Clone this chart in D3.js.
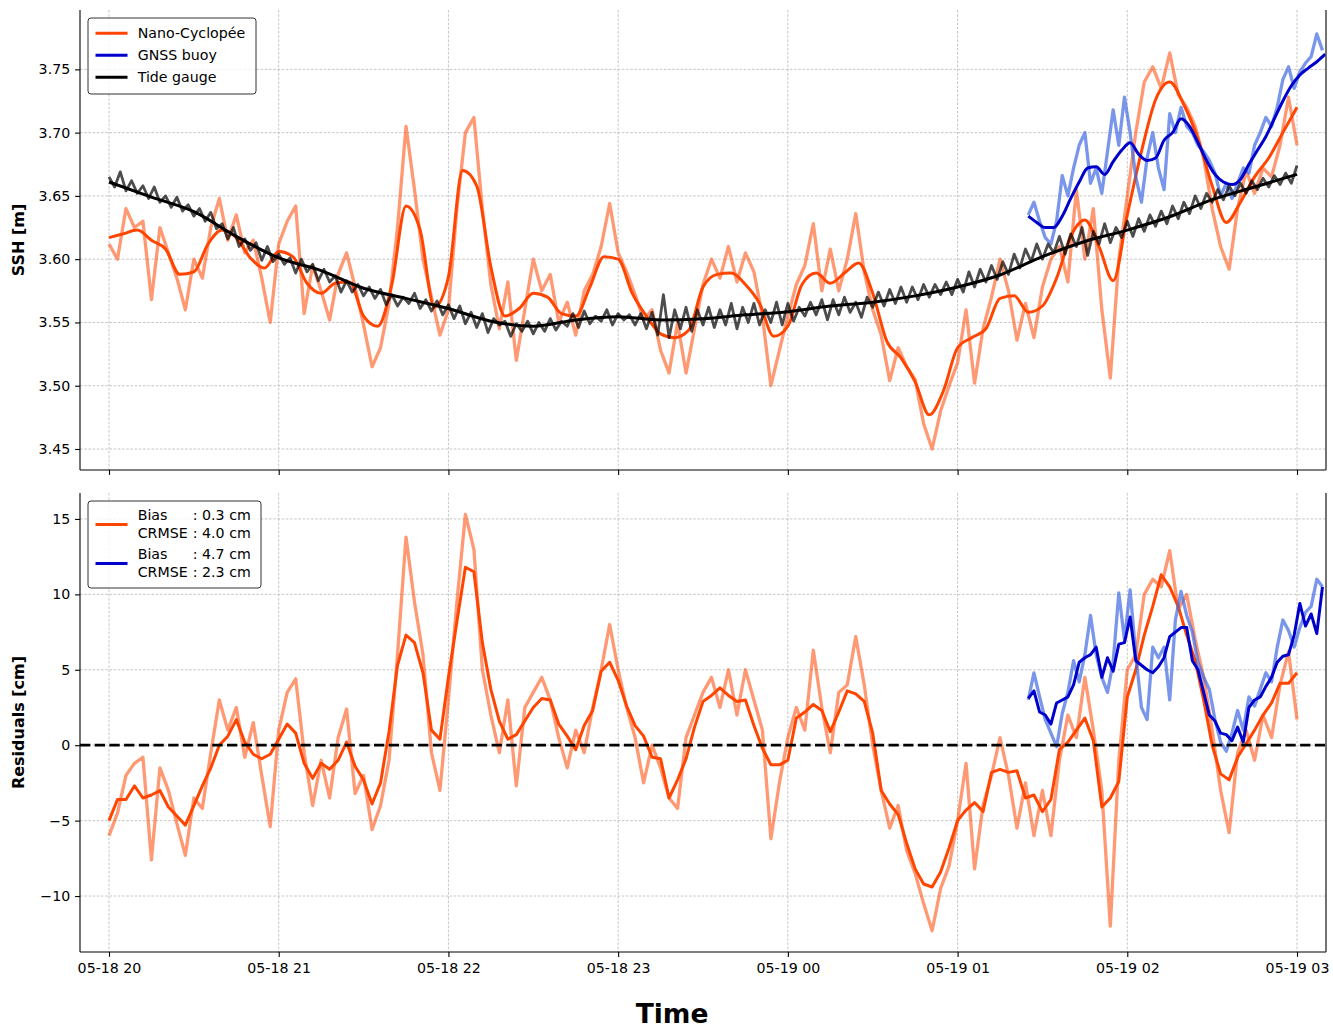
<!DOCTYPE html>
<html>
<head>
<meta charset="utf-8">
<script src="https://cdn.jsdelivr.net/npm/d3@7"></script>
<style>
  body { margin: 0; background: #fff; }
  svg text { font-family: "DejaVu Sans", sans-serif; }
</style>
</head>
<body>
<div id="chart"></div>
<script>
// time is counted in minutes after 05-18 20:00 (UTC)
const t0 = Date.UTC(2023, 4, 18, 20, 0);
const hourTicks = [0, 1, 2, 3, 4, 5, 6, 7];

// ---- top panel : SSH [m] ----
// Nano-Cyclopée raw, every 3 min from 20:00
const nanoRaw = [
  3.612, 3.600, 3.640, 3.625, 3.630, 3.568, 3.625, 3.605, 3.585, 3.560,
  3.600, 3.585, 3.625, 3.648, 3.615, 3.635, 3.605, 3.615, 3.585, 3.550,
  3.612, 3.630, 3.642, 3.557, 3.595, 3.575, 3.552, 3.588, 3.605, 3.578,
  3.548, 3.515, 3.530, 3.565, 3.625, 3.705, 3.655, 3.600, 3.570, 3.540,
  3.560, 3.640, 3.700, 3.712, 3.640, 3.580, 3.545, 3.582, 3.520, 3.560,
  3.600, 3.575, 3.588, 3.550, 3.566, 3.540, 3.575, 3.588, 3.610, 3.644,
  3.605, 3.590, 3.572, 3.552, 3.560, 3.528, 3.510, 3.550, 3.510, 3.545,
  3.580, 3.600, 3.585, 3.610, 3.582, 3.605, 3.590, 3.555, 3.500, 3.528,
  3.555, 3.580, 3.595, 3.628, 3.575, 3.608, 3.575, 3.600, 3.636, 3.590,
  3.560, 3.540, 3.504, 3.530, 3.515, 3.505, 3.470, 3.450, 3.480, 3.500,
  3.518, 3.560, 3.502, 3.545, 3.570, 3.600, 3.575, 3.536, 3.565, 3.538,
  3.578, 3.600, 3.610, 3.582, 3.655, 3.600, 3.640, 3.560, 3.506, 3.600,
  3.650, 3.700, 3.740, 3.752, 3.735, 3.763, 3.730, 3.720, 3.705, 3.680,
  3.640, 3.610, 3.592, 3.640, 3.670, 3.652, 3.672, 3.665, 3.690, 3.728,
  3.690
];
// Nano-Cyclopée smoothed, every 5 min
const nanoSmooth = [
  3.617, 3.620, 3.623, 3.615, 3.608, 3.588, 3.590, 3.612, 3.623, 3.617,
  3.601, 3.593, 3.606, 3.602, 3.581, 3.573, 3.581, 3.582, 3.555, 3.547,
  3.580, 3.642, 3.623, 3.562, 3.586, 3.670, 3.658, 3.594, 3.555, 3.561,
  3.573, 3.570, 3.557, 3.555, 3.578, 3.602, 3.600, 3.573, 3.555, 3.541,
  3.538, 3.544, 3.578, 3.588, 3.589, 3.580, 3.565, 3.539, 3.547, 3.580,
  3.589, 3.581, 3.589, 3.597, 3.573, 3.535, 3.522, 3.503, 3.477, 3.496,
  3.530, 3.538, 3.545, 3.569, 3.571, 3.558, 3.563, 3.585, 3.618, 3.631,
  3.610, 3.583, 3.635, 3.685, 3.726, 3.740, 3.722, 3.695, 3.658, 3.629,
  3.645, 3.665, 3.680, 3.700, 3.720
];
// Tide gauge raw, every 2 min
const tideRaw = [
  3.665, 3.657, 3.669, 3.654, 3.662, 3.652, 3.658, 3.648, 3.657, 3.645, 3.650, 3.641, 3.649, 3.638, 3.643, 3.634,
  3.640, 3.630, 3.637, 3.624, 3.628, 3.616, 3.625, 3.610, 3.616, 3.607, 3.613, 3.599, 3.610, 3.598, 3.604,
  3.596, 3.601, 3.589, 3.600, 3.590, 3.596, 3.583, 3.592, 3.582, 3.587, 3.574, 3.583, 3.574, 3.580, 3.571,
  3.578, 3.569, 3.576, 3.564, 3.572, 3.563, 3.570, 3.565, 3.573, 3.561, 3.568, 3.559, 3.567, 3.556, 3.564,
  3.553, 3.563, 3.549, 3.558, 3.546, 3.557, 3.542, 3.553, 3.548, 3.551, 3.539, 3.549, 3.543, 3.551, 3.541,
  3.550, 3.543, 3.553, 3.544, 3.551, 3.547, 3.557, 3.546, 3.559, 3.549, 3.555, 3.551, 3.560, 3.548, 3.557,
  3.552, 3.556, 3.548, 3.557, 3.545, 3.558, 3.540, 3.572, 3.538, 3.560, 3.545, 3.562, 3.543, 3.560, 3.548,
  3.562, 3.546, 3.560, 3.548, 3.565, 3.545, 3.562, 3.550, 3.565, 3.548, 3.560, 3.550, 3.566, 3.548, 3.565,
  3.551, 3.562, 3.555, 3.566, 3.556, 3.568, 3.552, 3.568, 3.556, 3.570, 3.558, 3.566, 3.554, 3.570, 3.562,
  3.574, 3.563, 3.576, 3.565, 3.578, 3.566, 3.578, 3.568, 3.580, 3.570, 3.580, 3.572, 3.582, 3.572, 3.584,
  3.574, 3.590, 3.578, 3.592, 3.582, 3.595, 3.584, 3.598, 3.588, 3.604, 3.593, 3.608, 3.598, 3.612, 3.600,
  3.612, 3.605, 3.618, 3.604, 3.620, 3.610, 3.625, 3.603, 3.622, 3.612, 3.628, 3.613, 3.625, 3.617, 3.630,
  3.618, 3.632, 3.622, 3.635, 3.626, 3.638, 3.628, 3.642, 3.632, 3.645, 3.636, 3.650, 3.640, 3.652, 3.645,
  3.655, 3.647, 3.658, 3.650, 3.660, 3.652, 3.662, 3.655, 3.664, 3.657, 3.666, 3.659, 3.668, 3.660, 3.674
];
// Tide gauge smoothed, every 15 min
const tideSmooth = [
  3.661, 3.649, 3.6375, 3.618, 3.601, 3.591, 3.577, 3.569, 3.561, 3.551,
  3.547, 3.552, 3.5545, 3.552, 3.553, 3.556, 3.5585, 3.563, 3.566, 3.571,
  3.578, 3.5875, 3.602, 3.614, 3.623, 3.6335, 3.647, 3.657, 3.667
];
// GNSS buoy raw, every 2 min from 01:25
const gnssRaw = [
  3.635, 3.645, 3.630, 3.617, 3.612, 3.630, 3.666, 3.650, 3.672, 3.690,
  3.700, 3.660, 3.672, 3.652, 3.685, 3.718, 3.690, 3.728, 3.700, 3.665,
  3.645, 3.680, 3.700, 3.672, 3.655, 3.715, 3.700, 3.720, 3.705, 3.700,
  3.690, 3.685, 3.678, 3.668, 3.650, 3.660, 3.648, 3.660, 3.672, 3.668,
  3.690, 3.700, 3.712, 3.705, 3.720, 3.742, 3.752, 3.735, 3.748, 3.755,
  3.760, 3.778, 3.765
];
// GNSS buoy smoothed, every 3 min from 01:25
const gnssSmooth = [
  3.634, 3.629, 3.625, 3.625, 3.634, 3.648, 3.661, 3.672, 3.673, 3.667,
  3.677, 3.686, 3.692, 3.683, 3.678, 3.680, 3.694, 3.700, 3.711, 3.705,
  3.692, 3.678, 3.667, 3.661, 3.659, 3.663, 3.675, 3.686, 3.697, 3.711,
  3.725, 3.737, 3.7455, 3.751, 3.756, 3.762
];

// ---- bottom panel : residuals [cm] ----
// Nano-Cyclopée residuals, every 3 min
const resNanoRaw = [
  -6.0, -4.5, -2.0, -1.2, -0.8, -7.6, -1.5, -3.0, -5.2, -7.3,
  -3.5, -4.2, -0.5, 3.0, 1.0, 2.5, -0.8, 1.5, -2.0, -5.4,
  1.0, 3.5, 4.4, -0.5, -4.0, -1.0, -3.5, 0.5, 2.4, -3.2,
  -2.0, -5.6, -4.0, -1.0, 6.0, 13.8, 9.5, 6.0, -0.5, -3.0,
  3.0, 9.5, 15.3, 13.0, 5.0, 2.0, -0.5, 3.0, -2.7, 2.5,
  3.5, 4.5, 3.0, 0.5, -1.5, 1.0, -0.5, 2.5, 5.0, 8.0,
  5.0, 2.5, 0.5, -2.5, 0.0, -1.5, -3.5, -4.2, 0.5, 2.0,
  3.5, 4.5, 2.5, 5.0, 2.0, 5.0, 3.0, 1.0, -6.2, -2.5,
  0.5, 2.5, 1.0, 6.3, 2.5, -0.5, 3.5, 4.0, 7.2, 4.0,
  0.0, -3.0, -5.5, -4.0, -7.0, -8.5, -10.5, -12.3, -9.5, -8.0,
  -5.0, -1.2, -8.2, -4.0, -2.0, 0.5, -2.0, -5.5, -2.5, -6.0,
  -3.0, -6.0, -1.0, 2.0, 0.5, 4.5, 1.0, -3.0, -12.0, -1.0,
  5.0, 6.0, 10.0, 11.0, 10.5, 12.9, 9.0, 10.0, 7.0, 4.5,
  1.0, -3.0, -5.8, -0.5, 1.0, -1.0, 2.0, 0.5, 4.0, 6.2,
  1.7
];
const resNanoSmooth = [
  -5.0, -3.6, -3.6, -2.7, -3.5, -3.3, -3.0, -4.1, -4.7, -5.3,
  -4.0, -2.7, -1.5, 0.0, 0.6, 1.7, 0.2, -0.6, -0.9, -0.6,
  0.4, 1.4, 0.8, -1.2, -2.2, -1.2, -1.6, -1.0, 0.2, -1.4,
  -2.3, -3.9, -2.5, 0.9, 5.3, 7.3, 6.8, 4.8, 1.0, 0.4,
  4.5, 8.2, 11.8, 11.5, 6.8, 3.7, 1.6, 0.4, 0.7, 1.6,
  2.5, 3.1, 3.0, 1.4, 0.6, -0.3, 1.3, 2.3, 4.9, 5.5,
  4.3, 2.6, 1.3, 0.6, -0.8, -0.9, -3.5, -2.3, -0.9, 1.2,
  2.9, 3.3, 3.8, 3.3, 2.9, 3.0, 1.3, -0.2, -1.3, -1.3,
  -1.0, 1.8, 2.2, 2.7, 2.3, 0.9, 2.2, 3.6, 3.4, 2.9,
  0.8, -3.0, -3.9, -4.6, -6.5, -8.2, -9.2, -9.4, -8.4, -6.8,
  -5.0, -4.3, -3.8, -4.4, -1.8, -1.6, -1.8, -1.7, -3.5, -3.3,
  -4.4, -3.6, -0.3, 0.2, 1.0, 1.8, 0.3, -4.1, -3.5, -2.4,
  3.2, 5.0, 7.3, 9.2, 11.3, 10.5, 9.2, 7.3, 5.6, 3.0,
  0.0, -1.9, -2.3, -0.8, 0.1, 1.0, 2.0, 2.8, 4.1, 4.1,
  4.8
];
// GNSS buoy residuals, every 2 min from 01:25
const resGnssRaw = [
  3.0, 4.8, 3.2, 1.7, 0.8, -0.1, 2.1, 3.5, 5.6, 4.2,
  6.0, 8.6, 6.0, 4.5, 3.5, 5.5, 10.1, 7.0, 10.3, 6.0,
  2.5, 1.7, 6.5, 5.8, 6.5, 3.0, 8.3, 10.2, 8.6, 7.5,
  5.5, 4.5, 3.7, 1.7, 0.2, -0.4, 0.8, 2.3, 1.0, 3.2,
  2.6, 3.7, 4.8, 4.2, 6.5, 8.3, 7.6, 6.5, 7.8, 8.8,
  9.2, 11.0, 10.5
];
const resGnssSmooth = [
  3.1, 3.6, 2.2, 2.0, 1.4, 2.8, 3.0, 3.2, 4.0, 5.5,
  5.8, 6.0, 6.5, 4.5, 5.8, 4.9, 6.7, 6.8, 8.5, 5.6,
  5.3, 5.0, 4.8, 5.2, 5.8, 7.2, 7.5, 7.8, 7.8, 5.6,
  5.0, 3.5, 2.0, 1.6, 0.8, 0.7, 0.3, 1.2, 0.2, 2.5,
  3.0, 3.2, 3.9, 4.5, 5.5, 5.9, 6.0, 7.3, 9.4, 7.9,
  8.7, 7.4, 10.5
];

const sshTicks = [3.45, 3.50, 3.55, 3.60, 3.65, 3.70, 3.75];
const resTicks = [-10, -5, 0, 5, 10, 15];
const legendNames = ["Nano-Cyclopée", "GNSS buoy", "Tide gauge"];
const biasNano = "0.3 cm", crmseNano = "4.0 cm";
const biasGnss = "4.7 cm", crmseGnss = "2.3 cm";

// ---- layout ----
const W = 1333, H = 1027;
const left = 80, right = 1326;
const top1 = 10, bot1 = 470, top2 = 493, bot2 = 952;
const fs = 14.2;
const cNano = "#ff4500", cGnss = "#0000cd", cGnssLight = "#4169e1";

const minute = 60000;
const x = d3.scaleUtc()
  .domain([new Date(t0 - 10.25 * minute), new Date(t0 + 430.25 * minute)])
  .range([left, right]);
const ySsh = d3.scaleLinear().domain([3.4334, 3.7969]).range([bot1, top1]);
const yRes = d3.scaleLinear().domain([-13.71, 16.72]).range([bot2, top2]);
const hourDates = hourTicks.map(h => new Date(t0 + h * 60 * minute));

const pts = (vals, start, step) => vals.map((v, i) => ({t: new Date(t0 + (start + i * step) * minute), v}));

const svg = d3.select("#chart").append("svg").attr("width", W).attr("height", H);
svg.append("rect").attr("width", W).attr("height", H).attr("fill", "#fff");

const defs = svg.append("defs");
defs.append("clipPath").attr("id", "clipTop").append("rect")
  .attr("x", left).attr("y", top1).attr("width", right - left).attr("height", bot1 - top1);
defs.append("clipPath").attr("id", "clipBot").append("rect")
  .attr("x", left).attr("y", top2).attr("width", right - left).attr("height", bot2 - top2);

function grid(y, yTop, yBot, ticks) {
  const g = svg.append("g").attr("stroke", "#b8b8b8").attr("stroke-width", 0.8)
    .attr("stroke-dasharray", "2.6,1.6");
  g.selectAll(".gx").data(hourDates).join("line")
    .attr("x1", d => x(d)).attr("x2", d => x(d)).attr("y1", yTop).attr("y2", yBot);
  g.selectAll(".gy").data(ticks).join("line")
    .attr("x1", left).attr("x2", right).attr("y1", d => y(d)).attr("y2", d => y(d));
}

function drawLine(data, y, clip, color, opacity, width, curve) {
  const line = d3.line().x(d => x(d.t)).y(d => y(d.v)).curve(curve || d3.curveLinear);
  svg.append("path").datum(data)
    .attr("clip-path", `url(#${clip})`)
    .attr("d", line)
    .attr("fill", "none")
    .attr("stroke", color)
    .attr("stroke-opacity", opacity)
    .attr("stroke-width", width)
    .attr("stroke-linejoin", "round");
}

function axes(y, yTop, yBot, ticks, fmt, showX) {
  const ax = svg.append("g").attr("transform", `translate(${left},0)`)
    .call(d3.axisLeft(y).tickValues(ticks).tickFormat(fmt).tickSizeOuter(0).tickSize(4.9).tickPadding(4.9));
  ax.select(".domain").attr("d", `M0,${yTop}V${yBot}`);
  const bx = svg.append("g").attr("transform", `translate(0,${yBot})`)
    .call(d3.axisBottom(x).tickValues(hourDates)
      .tickFormat(showX ? d3.utcFormat("%m-%d %H") : () => "")
      .tickSizeOuter(0).tickSize(4.9).tickPadding(6));
  bx.select(".domain").attr("d", `M${left},0H${right}`);
  [ax, bx].forEach(g => {
    g.attr("font-family", "DejaVu Sans").attr("font-size", fs);
    g.selectAll(".tick text").attr("fill", "#000");
    g.selectAll("line, path").attr("stroke", "#000").attr("stroke-width", 1.1);
  });
  // right spine
  svg.append("line").attr("x1", right).attr("x2", right).attr("y1", yTop).attr("y2", yBot)
    .attr("stroke", "#444").attr("stroke-width", 1.5);
}

const rawW = 3.3, smoothW = 3.0;

// ---- top panel ----
grid(ySsh, top1, bot1, sshTicks);
drawLine(pts(nanoRaw, 0, 3), ySsh, "clipTop", cNano, 0.55, rawW);
drawLine(pts(nanoSmooth, 0, 5), ySsh, "clipTop", cNano, 1, smoothW, d3.curveMonotoneX);
drawLine(pts(gnssRaw, 325, 2), ySsh, "clipTop", cGnssLight, 0.7, rawW);
drawLine(pts(gnssSmooth, 325, 3), ySsh, "clipTop", cGnss, 1, smoothW, d3.curveMonotoneX);
drawLine(pts(tideRaw, 0, 2), ySsh, "clipTop", "#000", 0.7, 2.8);
drawLine(pts(tideSmooth, 0, 15), ySsh, "clipTop", "#000", 1, smoothW, d3.curveMonotoneX);
axes(ySsh, top1, bot1, sshTicks, d3.format(".2f"), false);

// ---- bottom panel ----
grid(yRes, top2, bot2, resTicks);
drawLine(pts(resNanoRaw, 0, 3), yRes, "clipBot", cNano, 0.55, rawW);
drawLine(pts(resNanoSmooth, 0, 3), yRes, "clipBot", cNano, 1, smoothW);
drawLine(pts(resGnssRaw, 325, 2), yRes, "clipBot", cGnssLight, 0.7, rawW);
drawLine(pts(resGnssSmooth, 325, 2), yRes, "clipBot", cGnss, 1, smoothW);
svg.append("line")
  .attr("x1", left).attr("x2", right).attr("y1", yRes(0)).attr("y2", yRes(0))
  .attr("stroke", "#000").attr("stroke-width", 2.8).attr("stroke-dasharray", "10.3,4.4");
axes(yRes, top2, bot2, resTicks, d3.format("d"), true);

// ---- axis labels ----
svg.append("text").attr("transform", `translate(24,${(top1 + bot1) / 2}) rotate(-90)`)
  .attr("text-anchor", "middle").attr("font-weight", "bold").attr("font-size", 16).text("SSH [m]");
svg.append("text").attr("transform", `translate(24,${(top2 + bot2) / 2}) rotate(-90)`)
  .attr("text-anchor", "middle").attr("font-weight", "bold").attr("font-size", 16).text("Residuals [cm]");
svg.append("text").attr("x", 672).attr("y", 1022.5)
  .attr("text-anchor", "middle").attr("font-weight", "bold").attr("font-size", 26.5).text("Time");

// ---- legends ----
function legendBox(x0, y0, w, h) {
  svg.append("rect").attr("x", x0).attr("y", y0).attr("width", w).attr("height", h).attr("rx", 3)
    .attr("fill", "#fff").attr("fill-opacity", 0.8).attr("stroke", "#333").attr("stroke-width", 1);
}
function handle(y, color) {
  svg.append("line").attr("x1", 95.5).attr("x2", 127.5).attr("y1", y).attr("y2", y)
    .attr("stroke", color).attr("stroke-width", 3);
}

legendBox(88, 18, 168, 76);
const legColors = [cNano, cGnss, "#000"];
legendNames.forEach((name, i) => {
  const ly = 33.3 + i * 22;
  handle(ly, legColors[i]);
  svg.append("text").attr("x", 137.7).attr("y", ly + 5).attr("font-size", fs).text(name);
});

legendBox(88, 501, 173, 87);
[[524.5, cNano, biasNano, crmseNano], [563.5, cGnss, biasGnss, crmseGnss]].forEach(([ly, col, b, c]) => {
  handle(ly, col);
  const t1 = svg.append("text").attr("x", 137.7).attr("y", ly - 9.5 + 5).attr("font-size", fs);
  t1.append("tspan").text("Bias");
  t1.append("tspan").attr("x", 192.8).text(": " + b);
  const t2 = svg.append("text").attr("x", 137.7).attr("y", ly + 8.2 + 5).attr("font-size", fs);
  t2.append("tspan").text("CRMSE");
  t2.append("tspan").attr("x", 192.8).text(": " + c);
});
</script>
</body>
</html>
